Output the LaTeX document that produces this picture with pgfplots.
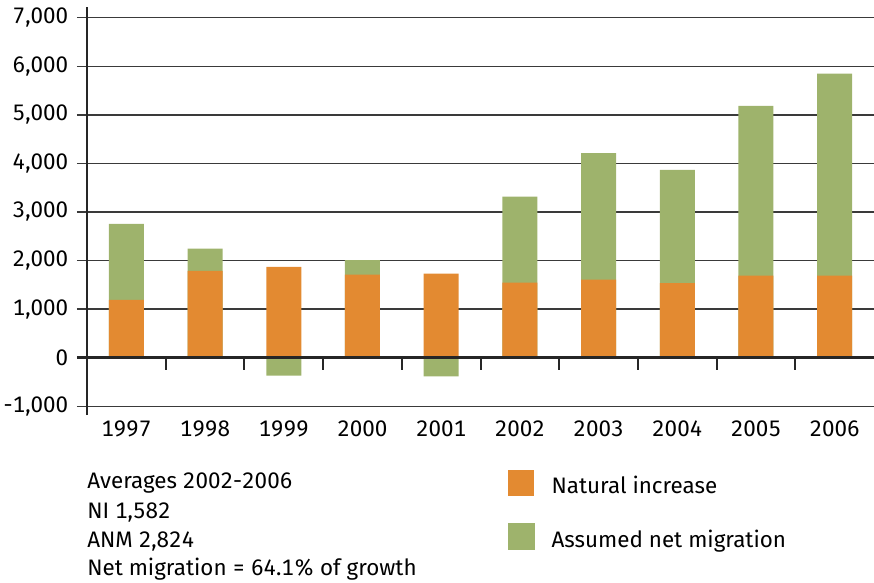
\documentclass[border=0pt]{standalone}
\usepackage{pgfplots}
\pgfplotsset{compat=1.18}
\usepackage{pgfplotstable}
\usepackage{fontspec}
\setmainfont{Fira Sans}[Numbers={Monospaced,Lining}]

\definecolor{niorange}{HTML}{E38A31}
\definecolor{anmgreen}{HTML}{9EB36C}
\definecolor{gridgray}{HTML}{3A3A3A}
\definecolor{axisdark}{HTML}{262626}

\newcommand{\labelsize}{\fontsize{16.8pt}{20pt}\selectfont}

% Population growth components by year (idx = position on the x axis)
\pgfplotstableread{
idx year ni   anm
0   1997 1190 1565
1   1998 1790 455
2   1999 1870 -370
3   2000 1710 300
4   2001 1730 -385
5   2002 1545 1770
6   2003 1605 2605
7   2004 1535 2330
8   2005 1690 3495
9   2006 1690 4160
}\growth

\begin{document}
\begin{tikzpicture}[font=\labelsize]
\begin{axis}[
  name=ax,
  scale only axis,
  width=590.25pt, height=306pt,
  xmin=-0.5, xmax=9.5,
  ymin=-1180, ymax=7220,
  axis lines=left,
  x axis line style={draw=none},
  y axis line style={-, line width=1.9pt, axisdark},
  xtick={0,...,9},
  xticklabels={1997,1998,1999,2000,2001,2002,2003,2004,2005,2006},
  xtick style={draw=none},
  xticklabel style={font=\labelsize, yshift=6.5pt},
  ytick={-1000,0,1000,2000,3000,4000,5000,6000,7000},
  ytick style={gridgray, line width=1pt},
  tick align=outside,
  major tick length=7.5pt,
  ymajorgrids,
  major grid style={gridgray, line width=1pt},
  yticklabel style={font=\labelsize, xshift=-3pt},
  scaled y ticks=false,
  /pgf/number format/.cd, 1000 sep={,}, assume math mode=true, /pgfplots/.cd,
  ybar,
  bar width=26.25pt,
  legend style={
    at={(0.535,-0.1348)}, anchor=north west,
    draw=none, fill=none, inner sep=0pt, outer sep=0pt,
    row sep=20.25pt, column sep=12.75pt,
    font=\labelsize,
    nodes={inner sep=0pt, outer sep=0pt},
  },
  legend cell align=left,
]
% migration: stacked on natural increase when positive, below zero when negative
\addplot[ybar, bar shift=0pt, fill=anmgreen, draw=none, forget plot]
  table[x=idx, y expr={(\thisrow{anm}>0) ? (\thisrow{ni}+\thisrow{anm}) : (\thisrow{anm})}] {\growth};
\addplot[ybar, bar shift=0pt, fill=niorange, draw=none,
  legend image code/.code={\fill[niorange] (0pt,-7.5pt) rectangle (19.5pt,12pt);}]
  table[x=idx, y=ni] {\growth};
\addlegendentry{Natural increase}
\addlegendimage{legend image code/.code={\fill[anmgreen] (0pt,-7.5pt) rectangle (19.5pt,12pt);}}
\addlegendentry{Assumed net migration}

% anchor points for the zero line and the category separators
\coordinate (z0) at (axis cs:-0.5,0);
\coordinate (z1) at (axis cs:9.5,0);
\coordinate (s1) at (axis cs:0.5,0);
\coordinate (s2) at (axis cs:1.5,0);
\coordinate (s3) at (axis cs:2.5,0);
\coordinate (s4) at (axis cs:3.5,0);
\coordinate (s5) at (axis cs:4.5,0);
\coordinate (s6) at (axis cs:5.5,0);
\coordinate (s7) at (axis cs:6.5,0);
\coordinate (s8) at (axis cs:7.5,0);
\coordinate (s9) at (axis cs:8.5,0);
\end{axis}

% zero line drawn over the bars, with separators between the years
\draw[axisdark, line width=1.8pt] ([xshift=-7.5pt]z0) -- (z1);
\foreach \k in {1,...,9} {
  \draw[axisdark, line width=1.5pt] (s\k) -- ++(0,-9pt);
}

\node[anchor=base west, inner sep=0pt] at ([yshift=-54.75pt]ax.south west) {Averages 2002-2006};
\node[anchor=base west, inner sep=0pt] at ([yshift=-77.25pt]ax.south west) {NI 1,582};
\node[anchor=base west, inner sep=0pt] at ([yshift=-99pt]ax.south west) {ANM 2,824};
\node[anchor=base west, inner sep=0pt] at ([yshift=-120pt]ax.south west) {Net migration = 64.1\% of growth};

\pgfresetboundingbox
\path ([xshift=-65.25pt,yshift=-125.25pt]ax.south west) rectangle ++(655.5pt,436.5pt);
\end{tikzpicture}
\end{document}
